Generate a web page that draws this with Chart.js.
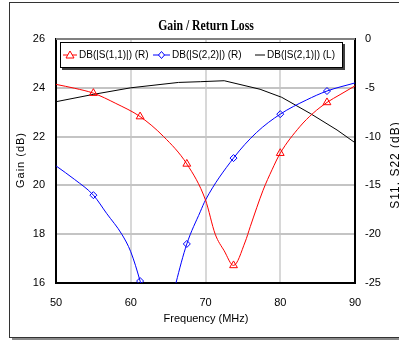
<!DOCTYPE html>
<html>
<head>
<meta charset="utf-8">
<script src="https://cdn.jsdelivr.net/npm/chart.js@4.4.0/dist/chart.umd.min.js"></script>
<style>
  body { margin: 0; background: #fff; }
  canvas { display: block; }
</style>
</head>
<body>
<canvas id="myChart" width="399" height="341"></canvas>
<script>
// S11 (right axis)
const s11Freq = [50, 52.5, 55, 58, 61.25, 64.4, 67.5, 70, 71.3, 72.5, 73.75, 75.3, 76, 77.7, 78.9, 80, 82.6, 84.4, 86.25, 88, 90];
const s11Db = [-4.65, -5.05, -5.55, -6.6, -7.95, -10.0, -12.8, -16.5, -20.0, -21.7, -23.2, -20.8, -19.2, -15.5, -13.4, -11.7, -9.0, -7.6, -6.5, -5.7, -4.8];
// S22 (right axis)
const s22Freq = [50, 52.5, 55, 56.8, 58.8, 60, 61.25, 62.5, 63.8, 65, 66.05, 67.5, 69.3, 70, 73.75, 76.8, 80, 83.5, 86.25, 90];
const s22Db = [-13.0, -14.4, -16.0, -17.9, -20.0, -21.8, -24.8, -28.5, -30.0, -28.5, -25.0, -21.0, -17.7, -16.5, -12.2, -9.6, -7.7, -6.25, -5.33, -4.5];
// S21 gain (left axis)
const s21Freq = [50, 55, 60, 66.4, 69.3, 72.5, 77.3, 80.2, 84, 87.6, 90];
const s21Db = [23.43, 23.73, 24.0, 24.22, 24.25, 24.29, 23.94, 23.61, 22.95, 22.27, 21.75];
// marker positions
const markerFreqs = [55, 61.25, 67.5, 73.75, 80, 86.25];

const seriesNames = ["DB(|S(1,1)|) (R)", "DB(|S(2,2)|) (R)", "DB(|S(2,1)|) (L)"];
const xTicks = [50, 60, 70, 80, 90];

const FONT = "'Liberation Sans', Arial, sans-serif";

function pts(fr, db) {
    return fr.map((f, i) => ({x: f, y: db[i]}));
}
function radii(fr, r) {
    return fr.map(f => markerFreqs.includes(f) ? r : 0);
}

const framePlugin = {
    id: 'frame',
    beforeDraw(chart) {
        const c = chart.ctx;
        c.save();
        c.fillStyle = '#fff';
        c.fillRect(0, 0, chart.width, chart.height);
        c.fillStyle = '#8a8a8a';
        c.fillRect(12, 5, 420, 335);
        c.fillStyle = '#fff';
        c.fillRect(9, 2, 420, 335);
        c.strokeStyle = '#333';
        c.lineWidth = 1;
        c.strokeRect(9.5, 2.5, 420, 335);
        c.restore();
    },
    afterDraw(chart) {
        const c = chart.ctx;
        const a = chart.chartArea;
        c.save();
        // top border of plot
        c.strokeStyle = '#808080';
        c.lineWidth = 2;
        c.beginPath();
        c.moveTo(a.left, a.top);
        c.lineTo(a.right, a.top);
        c.stroke();

        // title
        c.fillStyle = '#000';
        c.font = "bold 14px 'Liberation Serif', 'Times New Roman', serif";
        c.textAlign = 'center';
        c.textBaseline = 'middle';
        c.save();
        c.translate(206, 26);
        c.scale(0.84, 1);
        c.fillText('Gain / Return Loss', 0, 0);
        c.restore();

        // axis titles
        c.font = '11px ' + FONT;
        c.fillText('Frequency (MHz)', 206, 319);
        c.save();
        c.letterSpacing = '1px';
        c.translate(21, 160);
        c.rotate(-Math.PI / 2);
        c.fillText('Gain (dB)', 0, 0);
        c.restore();
        c.save();
        c.font = '12px ' + FONT;
        c.letterSpacing = '1px';
        c.translate(396, 165);
        c.rotate(-Math.PI / 2);
        c.fillText('S11, S22 (dB)', 0, 0);
        c.restore();

        // legend box
        c.fillStyle = '#404040';
        c.fillRect(62, 44, 283, 26);
        c.fillStyle = '#fff';
        c.fillRect(60, 42, 282, 25);
        c.strokeStyle = '#000';
        c.lineWidth = 1;
        c.strokeRect(60.5, 42.5, 282, 25);

        const ly = 55;
        c.font = '10px ' + FONT;
        c.textAlign = 'left';
        c.textBaseline = 'middle';
        // red
        c.strokeStyle = '#ff0000';
        c.beginPath(); c.moveTo(63, ly); c.lineTo(77, ly); c.stroke();
        c.fillStyle = '#fff';
        c.beginPath(); c.moveTo(70, ly - 4); c.lineTo(74, ly + 3); c.lineTo(66, ly + 3); c.closePath();
        c.fill(); c.stroke();
        // blue
        c.strokeStyle = '#0000ff';
        c.beginPath(); c.moveTo(153, ly); c.lineTo(170, ly); c.stroke();
        c.beginPath(); c.moveTo(161.5, ly - 3.5); c.lineTo(164.5, ly); c.lineTo(161.5, ly + 3.5); c.lineTo(158.5, ly); c.closePath();
        c.fill(); c.stroke();
        // black
        c.strokeStyle = '#000';
        c.beginPath(); c.moveTo(255, ly); c.lineTo(265, ly); c.stroke();

        c.fillStyle = '#000';
        c.fillText(seriesNames[0], 79, ly);
        c.fillText(seriesNames[1], 172, ly);
        c.fillText(seriesNames[2], 267, ly);
        c.restore();
    }
};

new Chart(document.getElementById('myChart'), {
    type: 'line',
    data: {
        datasets: [{
            label: seriesNames[0],
            data: pts(s11Freq, s11Db),
            yAxisID: 'yR',
            borderColor: '#ff0000',
            borderWidth: 1,
            pointStyle: 'triangle',
            pointRadius: radii(s11Freq, 4.5),
            pointBorderColor: '#ff0000',
            pointBackgroundColor: 'rgba(0,0,0,0)',
            pointBorderWidth: 1,
            cubicInterpolationMode: 'monotone'
        }, {
            label: seriesNames[1],
            data: pts(s22Freq, s22Db),
            yAxisID: 'yR',
            borderColor: '#0000ff',
            borderWidth: 1,
            pointStyle: 'rectRot',
            pointRadius: radii(s22Freq, 3.5),
            pointBorderColor: '#0000ff',
            pointBackgroundColor: 'rgba(0,0,0,0)',
            pointBorderWidth: 1,
            cubicInterpolationMode: 'monotone'
        }, {
            label: seriesNames[2],
            data: pts(s21Freq, s21Db),
            yAxisID: 'yL',
            borderColor: '#000000',
            borderWidth: 1,
            pointRadius: 0,
            tension: 0
        }]
    },
    options: {
        responsive: false,
        animation: false,
        devicePixelRatio: 1,
        layout: { padding: { top: 39, left: 0, right: 0, bottom: 0 } },
        plugins: { legend: { display: false }, title: { display: false }, tooltip: { enabled: false } },
        scales: {
            x: {
                type: 'linear',
                min: 50, max: 90,
                afterBuildTicks: s => { s.ticks = xTicks.map(v => ({value: v})); },
                afterFit: s => { s.height = 58; },
                grid: { color: '#d8d8d8', lineWidth: 2, drawTicks: false },
                border: { color: '#000', width: 2 },
                ticks: { padding: 13, color: '#000', font: { family: FONT, size: 11 } }
            },
            yL: {
                position: 'left',
                min: 16, max: 26,
                afterFit: s => { s.width = 56; },
                grid: { color: '#c4c4c4', lineWidth: 2, drawTicks: false },
                border: { color: '#000', width: 2 },
                ticks: { stepSize: 2, padding: 11, color: '#000', font: { family: FONT, size: 11 } }
            },
            yR: {
                position: 'right',
                min: -25, max: 0,
                afterFit: s => { s.width = 44; },
                grid: { display: false, drawTicks: false },
                border: { color: '#000', width: 2 },
                ticks: { stepSize: 5, padding: 10, color: '#000', font: { family: FONT, size: 11 } }
            }
        }
    },
    plugins: [framePlugin]
});
</script>
</body>
</html>
